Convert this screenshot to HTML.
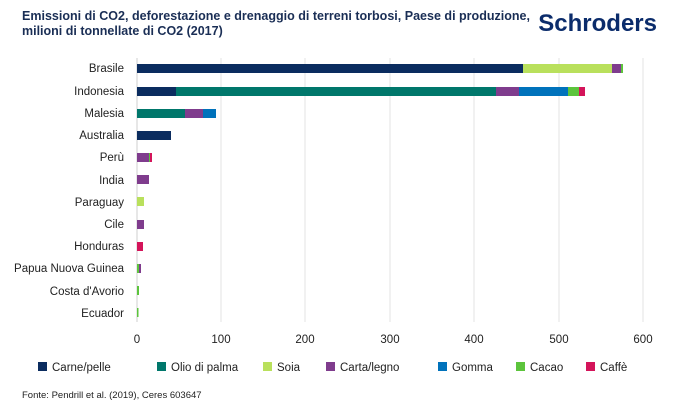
<!DOCTYPE html>
<html><head><meta charset="utf-8"><style>
body{margin:0;background:#fff;width:679px;height:403px;overflow:hidden}
svg text{font-family:"Liberation Sans",sans-serif}
</style></head><body>
<svg width="679" height="403" xmlns="http://www.w3.org/2000/svg">
<text x="22" y="20" font-size="12.5" font-weight="bold" fill="#1a2e55" textLength="508" lengthAdjust="spacingAndGlyphs">Emissioni di CO2, deforestazione e drenaggio di terreni torbosi, Paese di produzione,</text>
<text x="22" y="35" font-size="12.5" font-weight="bold" fill="#1a2e55">milioni di tonnellate di CO2 (2017)</text>
<text x="657" y="31" font-size="24" font-weight="bold" fill="#0b2c6b" text-anchor="end">Schroders</text>
<g stroke="#e3e3e3" stroke-width="1">
<line x1="221" y1="58" x2="221" y2="322"/><line x1="305" y1="58" x2="305" y2="322"/><line x1="390" y1="58" x2="390" y2="322"/><line x1="474" y1="58" x2="474" y2="322"/><line x1="559" y1="58" x2="559" y2="322"/><line x1="643" y1="58" x2="643" y2="322"/>
</g>
<line x1="137" y1="58" x2="137" y2="322" stroke="#cfcfcf"/>
<g font-size="11.5" fill="#222" text-anchor="end">
<text x="124" y="72">Brasile</text><text x="124" y="95">Indonesia</text><text x="124" y="117">Malesia</text><text x="124" y="139">Australia</text><text x="124" y="161">Perù</text><text x="124" y="184">India</text><text x="124" y="206">Paraguay</text><text x="124" y="228">Cile</text><text x="124" y="250">Honduras</text><text x="124" y="272">Papua Nuova Guinea</text><text x="124" y="295">Costa d'Avorio</text><text x="124" y="317">Ecuador</text>
</g>
<g>
<rect x="137" y="64" width="386" height="9" fill="#0b2c5f"/><rect x="523" y="64" width="89" height="9" fill="#b9e05c"/><rect x="612" y="64" width="9" height="9" fill="#7f3c8d"/><rect x="621" y="64" width="2" height="9" fill="#5cc43c"/>
<rect x="137" y="87" width="39" height="9" fill="#0b2c5f"/><rect x="176" y="87" width="320" height="9" fill="#00776b"/><rect x="496" y="87" width="23" height="9" fill="#7f3c8d"/><rect x="519" y="87" width="49" height="9" fill="#0072bb"/><rect x="568" y="87" width="11" height="9" fill="#5cc43c"/><rect x="579" y="87" width="6" height="9" fill="#d4145a"/>
<rect x="137" y="109" width="48" height="9" fill="#00776b"/><rect x="185" y="109" width="18" height="9" fill="#7f3c8d"/><rect x="203" y="109" width="13" height="9" fill="#0072bb"/>
<rect x="137" y="131" width="34" height="9" fill="#0b2c5f"/>
<rect x="137" y="153" width="12" height="9" fill="#7f3c8d"/><rect x="149" y="153" width="1" height="9" fill="#5cc43c"/><rect x="150" y="153" width="2" height="9" fill="#d4145a"/>
<rect x="137" y="175" width="12" height="9" fill="#7f3c8d"/>
<rect x="137" y="197" width="7" height="9" fill="#b9e05c"/>
<rect x="137" y="220" width="7" height="9" fill="#7f3c8d"/>
<rect x="137" y="242" width="6" height="9" fill="#d4145a"/>
<rect x="137" y="264" width="2" height="9" fill="#5cc43c"/><rect x="139" y="264" width="2" height="9" fill="#7f3c8d"/>
<rect x="137" y="286" width="2" height="9" fill="#5cc43c"/>
<rect x="137" y="308" width="1.5" height="9" fill="#5cc43c"/>
</g>
<g font-size="11.5" fill="#222" text-anchor="middle">
<text x="137" y="343">0</text><text x="221" y="343">100</text><text x="305" y="343">200</text><text x="390" y="343">300</text><text x="474" y="343">400</text><text x="559" y="343">500</text><text x="643" y="343">600</text>
</g>
<g font-size="11.5" fill="#222">
<rect x="38" y="362" width="9" height="9" fill="#0b2c5f"/><text x="52" y="371">Carne/pelle</text>
<rect x="157" y="362" width="9" height="9" fill="#00776b"/><text x="171" y="371">Olio di palma</text>
<rect x="263" y="362" width="9" height="9" fill="#b9e05c"/><text x="277" y="371">Soia</text>
<rect x="326" y="362" width="9" height="9" fill="#7f3c8d"/><text x="340" y="371">Carta/legno</text>
<rect x="438" y="362" width="9" height="9" fill="#0072bb"/><text x="452" y="371">Gomma</text>
<rect x="516" y="362" width="9" height="9" fill="#5cc43c"/><text x="530" y="371">Cacao</text>
<rect x="586" y="362" width="9" height="9" fill="#d4145a"/><text x="600" y="371">Caffè</text>
</g>
<text x="22" y="398" font-size="9.5" fill="#222">Fonte: Pendrill et al. (2019), Ceres 603647</text>
</svg>
</body></html>
